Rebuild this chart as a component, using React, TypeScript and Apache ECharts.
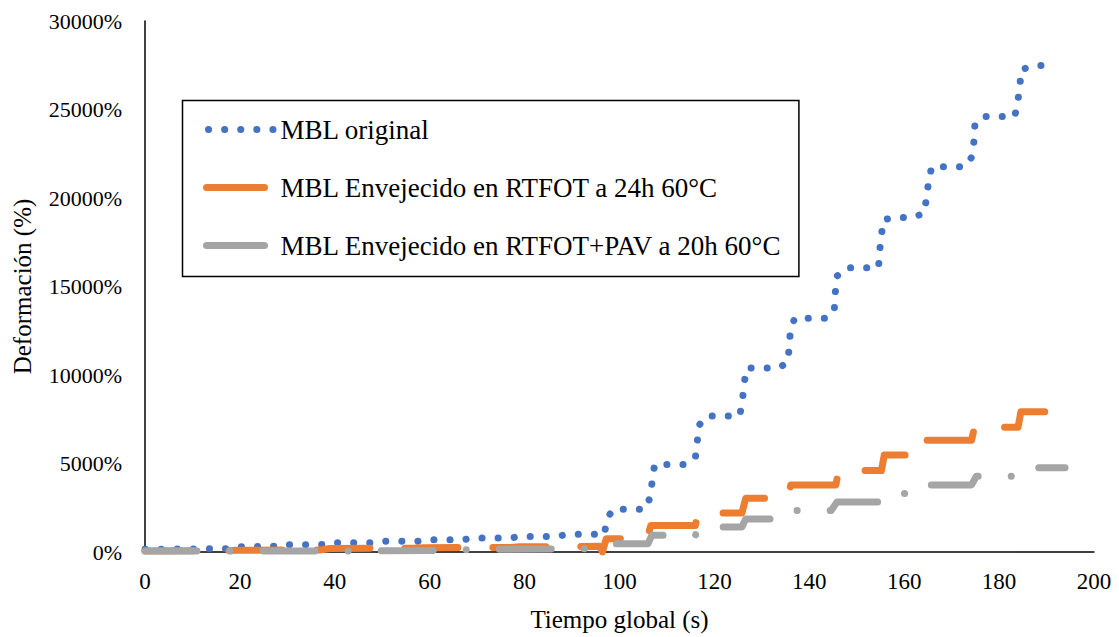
import React, { useEffect, useRef } from "react";
import * as echarts from "echarts";

const seriesNames = [
  "MBL original",
  "MBL Envejecido en RTFOT a 24h 60°C",
  "MBL Envejecido en RTFOT+PAV a 20h 60°C",
];

// [tiempo (s), deformación (%)]
const mblOriginal: [number, number][] = [
  [0, 150], [17.5, 190], [19, 300], [27.5, 320], [29, 410], [37.5, 420], [39, 520], [47.5, 520],
  [49, 600], [57.5, 610], [59, 690], [67, 690], [69, 790], [77, 790], [79, 880], [87, 880],
  [89, 1000], [95.5, 1000], [96.8, 950], [97.3, 1820], [98.6, 2420], [105.5, 2420],
  [106.5, 3140], [106.9, 4010], [107.4, 4950], [114, 4950], [116, 5350], [116.4, 6270],
  [116.8, 7170], [118.4, 7680], [125.3, 7680], [125.9, 8480], [126.2, 9420], [126.8, 10400],
  [133.5, 10400], [135.4, 10700], [135.8, 11600], [136.0, 12500], [136.9, 13200], [143.9, 13200],
  [145.3, 13800], [145.5, 14700], [145.9, 15600], [147.8, 16060], [154.6, 16060], [154.8, 16960],
  [155.2, 17870], [155.6, 18780], [158.6, 18900], [162.0, 18900], [164.3, 19170], [164.7, 20100],
  [165.2, 21000], [165.8, 21770], [172.8, 21770], [174.2, 22300], [174.7, 23200], [174.9, 24150],
  [176.6, 24600], [183.3, 24600], [183.9, 25400], [184.4, 26340], [184.6, 27250], [187.3, 27480],
  [190.7, 27480],
];

const mblRtfot: [number, number][] = [
  [0, 60], [18, 70], [19, 100], [37, 120], [39, 200], [57, 220], [59, 240], [77, 260],
  [79, 290], [95.8, 320], [96.4, 0], [97.2, 750], [105.8, 750], [106.6, 1500], [116, 1500],
  [116.5, 2200], [125.8, 2200], [126.6, 3040], [135.5, 3040], [136.1, 3790], [145.6, 3790],
  [146.2, 4600], [155.2, 4600], [155.8, 5480], [164.4, 5480], [164.8, 6310], [174.2, 6310],
  [174.8, 7050], [184, 7050], [184.6, 7920], [190.7, 7920],
];

const mblRtfotPav: [number, number][] = [
  [0, 50], [40, 60], [60, 80], [70, 150], [95.5, 190], [98, 470], [106, 470], [106.8, 940],
  [116, 940], [116.6, 1410], [125.8, 1410], [126.6, 1870], [136, 1870], [136.6, 2340],
  [144.6, 2340], [145.8, 2820], [155.2, 2820], [155.8, 3300], [164.6, 3300], [165.2, 3790],
  [174.2, 3790], [175.2, 4280], [184.5, 4280], [185.3, 4760], [193.9, 4760],
];

const colors = ["#4472C4", "#ED7D31", "#A5A5A5"];
const FONT = "'Liberation Serif', 'Times New Roman', serif";

export default function App() {
  const ref = useRef<HTMLDivElement>(null);
  useEffect(() => {
    const chart = echarts.init(ref.current!, null, { renderer: "svg" });
    chart.setOption({
      animation: false,
      backgroundColor: "#fff",
      textStyle: { fontFamily: FONT, color: "#000" },
      grid: { left: 145, right: 25, top: 21, bottom: 82, containLabel: false },
      legend: {
        orient: "vertical",
        left: 182.5,
        top: 100.5,
        padding: [15.5, 17, 17.5, 17.5],
        itemWidth: 72,
        itemHeight: 30,
        itemGap: 31,
        borderColor: "#000",
        borderWidth: 1.5,
        backgroundColor: "#fff",
        textStyle: { fontFamily: FONT, fontSize: 27, color: "#000" },
        data: [
          {
            name: seriesNames[0],
            itemStyle: { opacity: 0 },
            lineStyle: { width: 7, type: [0.1, 16], cap: "round", dashOffset: -5, color: colors[0] },
          },
          {
            name: seriesNames[1],
            itemStyle: { opacity: 0 },
            lineStyle: { width: 7, type: [58, 100], cap: "round", dashOffset: -3.5, color: colors[1] },
          },
          {
            name: seriesNames[2],
            itemStyle: { opacity: 0 },
            lineStyle: { width: 7, type: [58, 100], cap: "round", dashOffset: -3.5, color: colors[2] },
          },
        ],
      },
      xAxis: {
        type: "value",
        min: 0,
        max: 200,
        interval: 20,
        name: "Tiempo global (s)",
        nameLocation: "middle",
        nameGap: 55,
        nameTextStyle: { fontFamily: FONT, fontSize: 25, color: "#000" },
        axisLine: { show: true, lineStyle: { color: "#000", width: 1.5 } },
        axisTick: { show: false },
        splitLine: { show: false },
        axisLabel: { fontFamily: FONT, fontSize: 23, color: "#000", margin: 18 },
      },
      yAxis: {
        type: "value",
        min: 0,
        max: 30000,
        interval: 5000,
        name: "Deformación (%)",
        nameLocation: "middle",
        nameGap: 110,
        nameTextStyle: { fontFamily: FONT, fontSize: 25, color: "#000" },
        axisLine: { show: true, lineStyle: { color: "#000", width: 1.5 } },
        axisTick: { show: false },
        splitLine: { show: false },
        axisLabel: {
          fontFamily: FONT,
          fontSize: 22,
          color: "#000",
          margin: 23,
          formatter: (v: number) => String(v) + "%",
        },
      },
      series: [
        {
          type: "line",
          name: seriesNames[0],
          data: mblOriginal,
          symbol: "none",
          itemStyle: { color: colors[0] },
          lineStyle: { color: colors[0], width: 7, type: [0.1, 16], cap: "round", join: "round" },
        },
        {
          type: "line",
          name: seriesNames[1],
          data: mblRtfot,
          symbol: "none",
          itemStyle: { color: colors[1] },
          lineStyle: { color: colors[1], width: 7, type: [53, 35], dashOffset: 4, cap: "round", join: "round" },
        },
        {
          type: "line",
          name: seriesNames[2],
          data: mblRtfotPav,
          symbol: "none",
          itemStyle: { color: colors[2] },
          lineStyle: { color: colors[2], width: 7, type: [52, 33, 0.1, 33], cap: "round", join: "round" },
        },
      ],
    });
    return () => chart.dispose();
  }, []);
  return <div ref={ref} style={{ position: "absolute", left: 0, top: 0, width: 1119, height: 637 }} />;
}
